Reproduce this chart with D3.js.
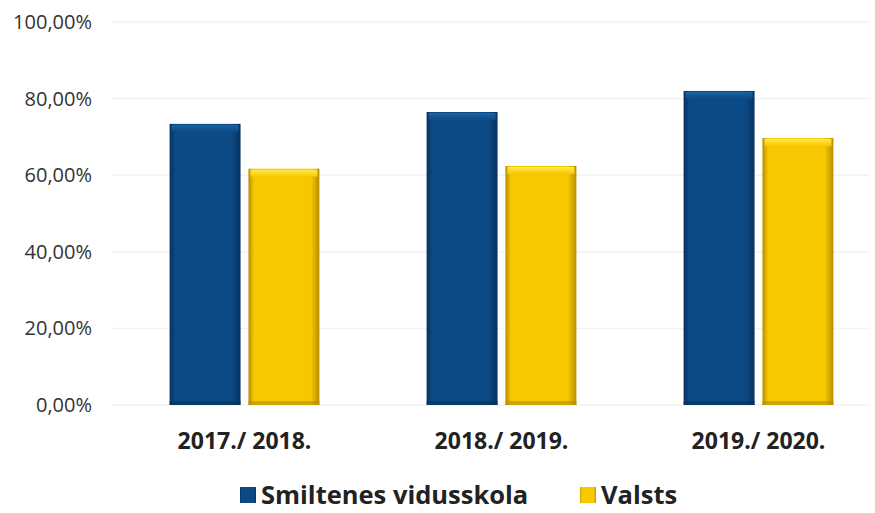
<!DOCTYPE html>
<html>
<head>
    <meta charset="utf-8" />
    <script src="https://cdn.jsdelivr.net/npm/d3@7"></script>
    <style>
        body { margin: 0; background: #fff; }
        text { font-family: "Open Sans", "Noto Sans", sans-serif; }
    </style>
</head>
<body>
    <div id="chart"></div>
    <script>
        var years = ["2017./ 2018.", "2018./ 2019.", "2019./ 2020."];
        var seriesNames = ["Smiltenes vidusskola", "Valsts"];
        var school = [0.734, 0.765, 0.82];
        var national = [0.617, 0.624, 0.697];
        var yTicks = [0, 0.2, 0.4, 0.6, 0.8, 1.0];

        var width = 875, height = 513;
        var colors = { "Smiltenes vidusskola": ["#06315c", "#0c4a85", "#1a63a6"],
                       "Valsts": ["#b88d00", "#f7c800", "#ffe94a"] };

        var svg = d3.select("#chart").append("svg")
            .attr("width", width).attr("height", height);

        var defs = svg.append("defs");
        seriesNames.forEach(function (s, i) {
            var c = colors[s];
            var g = defs.append("linearGradient").attr("id", "side" + i)
                .attr("x1", 0).attr("x2", 1).attr("y1", 0).attr("y2", 0);
            g.append("stop").attr("offset", "0%").attr("stop-color", c[0]);
            g.append("stop").attr("offset", "8%").attr("stop-color", c[1]);
            g.append("stop").attr("offset", "88%").attr("stop-color", c[1]);
            g.append("stop").attr("offset", "100%").attr("stop-color", c[0]);
            var t = defs.append("linearGradient").attr("id", "top" + i)
                .attr("x1", 0).attr("x2", 0).attr("y1", 0).attr("y2", 1);
            t.append("stop").attr("offset", "0%").attr("stop-color", c[2]);
            t.append("stop").attr("offset", "100%").attr("stop-color", c[1]);
        });

        var y = d3.scaleLinear().domain([0, 1]).range([405, 22]);
        var x0 = d3.scaleBand().domain(years).range([116, 887]);
        var x1 = d3.scaleBand().domain(seriesNames).range([0, x0.bandwidth()])
            .paddingInner(0.1).paddingOuter(0.68);

        var fmt = function (v) { return (v * 100).toFixed(2).replace(".", ",") + "%"; };

        // faint gridlines
        svg.append("g").selectAll("line").data(yTicks).enter().append("line")
            .attr("x1", 112).attr("x2", 870)
            .attr("y1", function (d) { return y(d); })
            .attr("y2", function (d) { return y(d); })
            .attr("stroke", "#f2f2f2").attr("stroke-width", 1.5);

        svg.append("g").selectAll("text").data(yTicks).enter().append("text")
            .attr("x", 92).attr("y", function (d) { return y(d); })
            .attr("dy", "0.35em").attr("text-anchor", "end")
            .attr("font-size", 20).attr("fill", "#333")
            .text(fmt);

        var rows = years.map(function (yr, i) {
            return [{ year: yr, s: seriesNames[0], v: school[i], k: 0 },
                    { year: yr, s: seriesNames[1], v: national[i], k: 1 }];
        });
        var bars = svg.append("g").selectAll("g").data(rows).enter().append("g")
            .attr("transform", function (d) { return "translate(" + x0(d[0].year) + ",0)"; })
            .selectAll("g").data(function (d) { return d; }).enter().append("g");

        bars.append("rect")
            .attr("x", function (d) { return x1(d.s); })
            .attr("y", function (d) { return y(d.v); })
            .attr("width", x1.bandwidth())
            .attr("height", function (d) { return y(0) - y(d.v); })
            .attr("fill", function (d) { return "url(#side" + d.k + ")"; });
        bars.append("rect")
            .attr("x", function (d) { return x1(d.s) + 2; })
            .attr("y", function (d) { return y(d.v) + 1; })
            .attr("width", x1.bandwidth() - 4)
            .attr("height", 7)
            .attr("fill", function (d) { return "url(#top" + d.k + ")"; });
        bars.append("rect")
            .attr("x", function (d) { return x1(d.s); })
            .attr("y", y(0) - 4)
            .attr("width", x1.bandwidth())
            .attr("height", 4)
            .attr("fill", function (d) { return colors[d.s][0]; })
            .attr("opacity", 0.6);

        svg.append("g").selectAll("text").data(years).enter().append("text")
            .attr("x", function (d) { return x0(d) + x0.bandwidth() / 2; })
            .attr("y", 449).attr("text-anchor", "middle")
            .attr("font-size", 23).attr("font-weight", "bold").attr("fill", "#222")
            .text(function (d) { return d; });

        var legendX = [240, 580];
        var legend = svg.append("g").selectAll("g").data(seriesNames).enter().append("g")
            .attr("transform", function (d, i) { return "translate(" + legendX[i] + ",487)"; });
        legend.append("rect").attr("width", 16).attr("height", 16)
            .attr("fill", function (d, i) { return "url(#side" + i + ")"; });
        legend.append("text").attr("x", 21).attr("y", 8).attr("dy", "0.36em")
            .attr("font-size", 25.5).attr("font-weight", "bold").attr("fill", "#222")
            .text(function (d) { return d; });
    </script>
</body>
</html>
